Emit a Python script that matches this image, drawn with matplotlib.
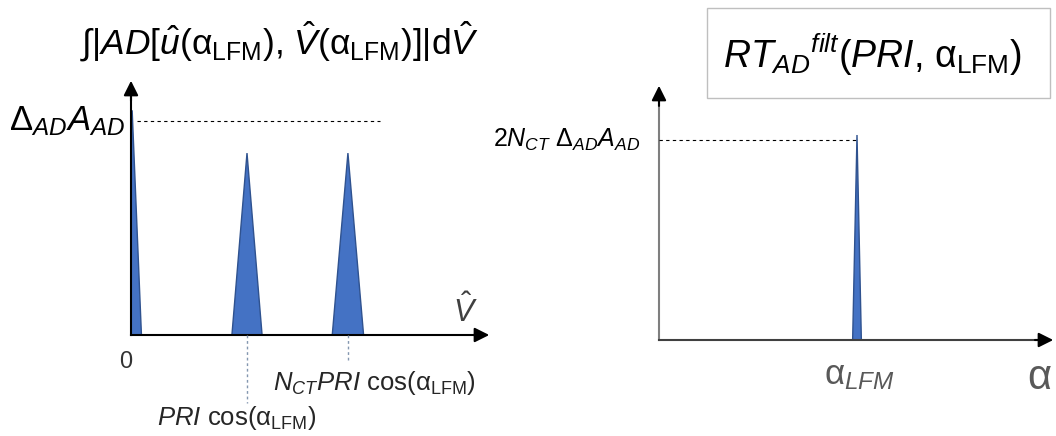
import matplotlib
matplotlib.use("Agg")
import matplotlib.pyplot as plt
from matplotlib.patches import Rectangle

plt.rcParams["font.family"] = ["Liberation Sans", "DejaVu Sans"]
plt.rcParams["mathtext.fontset"] = "custom"
plt.rcParams["mathtext.rm"] = "Liberation Sans"
plt.rcParams["mathtext.it"] = "Liberation Sans:italic"
plt.rcParams["mathtext.bf"] = "Liberation Sans:bold"

# Left panel: integrated ambiguity vs. V-hat (units of PRI cos(alpha))
peak_pos = [0.01, 1.0, 1.87]
peak_halfwidth = [0.08, 0.13, 0.135]
peak_height = [1.05, 0.85, 0.85]
ref_level_left = 1.0

# Right panel: filtered Radon transform vs. alpha (units of alpha_LFM)
rt_pos = [1.0]
rt_halfwidth = [0.022]
rt_height = [1.025]
ref_level_right = 1.0

FILL = "#4472C4"
EDGE = "#2F528F"
GUIDE = "#8497B0"
GRAY_TXT = "#595959"

W, H = 1056, 436
fig = plt.figure(figsize=(W / 100, H / 100), dpi=100)


def px_axes(x0, y0, x1, y1):
    # axes placed by pixel box (left, bottom, right, top), y measured from top
    return fig.add_axes([x0 / W, (H - y0) / H, (x1 - x0) / W, (y0 - y1) / H])


def draw_axes_arrows(ax, color_y, color_x):
    for s in ax.spines.values():
        s.set_visible(False)
    ax.set_xticks([])
    ax.set_yticks([])
    ax.patch.set_alpha(0)
    ax.plot([0, 0], [0, 0.97], transform=ax.transAxes, color=color_y, lw=1.5, clip_on=False)
    ax.plot([0, 0.98], [0, 0], transform=ax.transAxes, color=color_x, lw=1.5, clip_on=False)
    ax.annotate("", xy=(0, 1), xytext=(0, 0.9), xycoords="axes fraction",
                arrowprops=dict(arrowstyle="-|>", color="black", lw=1.5, mutation_scale=22))
    ax.annotate("", xy=(1, 0), xytext=(0.94, 0), xycoords="axes fraction",
                arrowprops=dict(arrowstyle="-|>", color="black", lw=1.5, mutation_scale=22))


def draw_peaks(ax, pos, hw, ht):
    for c, w, h in zip(pos, hw, ht):
        ax.fill([c - w, c + w, c], [0, 0, h], facecolor=FILL, edgecolor=EDGE, lw=1.0)


# ---- left panel ----
axl = px_axes(131, 335, 492, 78)
axl.set_xlim(0, 361 / 116)
axl.set_ylim(0, 257 / 214)
draw_axes_arrows(axl, "black", "black")
draw_peaks(axl, peak_pos, peak_halfwidth, peak_height)

axl.plot([0.05, 2.15], [ref_level_left, ref_level_left], ls=(0, (3, 3)), color="black", lw=0.8)
axl.plot([peak_pos[1]] * 2, [0, -0.32], ls=(0, (2, 2)), color=GUIDE, lw=1.0, clip_on=False)
axl.plot([peak_pos[2]] * 2, [0, -0.117], ls=(0, (2, 2)), color=GUIDE, lw=1.0, clip_on=False)

axl.text(1.28, 1.31, r"∫|$\it{AD}$[$\it{\hat{u}}$(α$_{\rm LFM}$), $\it{\hat{V}}$(α$_{\rm LFM}$)]|d$\it{\hat{V}}$",
         fontsize=25.5, ha="center", va="baseline", clip_on=False)
axl.text(-0.05, ref_level_left, r"$\mathrm{\Delta}_{AD}A_{AD}$", fontsize=25,
         ha="right", va="center", clip_on=False)
axl.text(-0.05, -0.126, "0", fontsize=17, ha="center", va="center", color="#333333", clip_on=False)
axl.text(2.88, 0.107, r"$\it{\hat{V}}$", fontsize=22, ha="center", va="center",
         color="#404040", clip_on=False)
axl.text(2.10, -0.224, r"$N_{CT}PRI$ cos(α$_{\rm LFM}$)", fontsize=18.5, ha="center", va="center",
         color="#262626", clip_on=False)
axl.text(0.91, -0.39, r"$PRI$ cos(α$_{\rm LFM}$)", fontsize=18.5, ha="center", va="center",
         color="#262626", clip_on=False)

# ---- right panel ----
axr = px_axes(659, 340, 1056, 83)
axr.set_xlim(0, 397 / 198)
axr.set_ylim(0, 257 / 200)
draw_axes_arrows(axr, "#7F7F7F", "#404040")
draw_peaks(axr, rt_pos, rt_halfwidth, rt_height)

axr.plot([0, 1.01], [ref_level_right, ref_level_right], ls=(0, (3, 3)), color="black", lw=0.8)
axr.text(-0.096, ref_level_right, r"2$N_{CT}$ $\mathrm{\Delta}_{AD}A_{AD}$", fontsize=18,
         ha="right", va="center", clip_on=False)
axr.text(1.015, -0.175, r"α$_{LFM}$", fontsize=25, ha="center", va="center",
         color=GRAY_TXT, clip_on=False)
axr.text(1.86, -0.19, "α", fontsize=30, ha="left", va="center", color=GRAY_TXT, clip_on=False)

# title box
fig.patches.append(Rectangle((707 / W, (H - 98) / H), 343 / W, 90 / H, transform=fig.transFigure,
                             facecolor="white", edgecolor="#BFBFBF", lw=1.0))
fig.text(872 / W, (H - 55) / H, r"$RT_{AD}{}^{filt}$($PRI$, α$_{\rm LFM}$)", fontsize=27,
         ha="center", va="center")

fig.savefig("out.png", dpi=100)
